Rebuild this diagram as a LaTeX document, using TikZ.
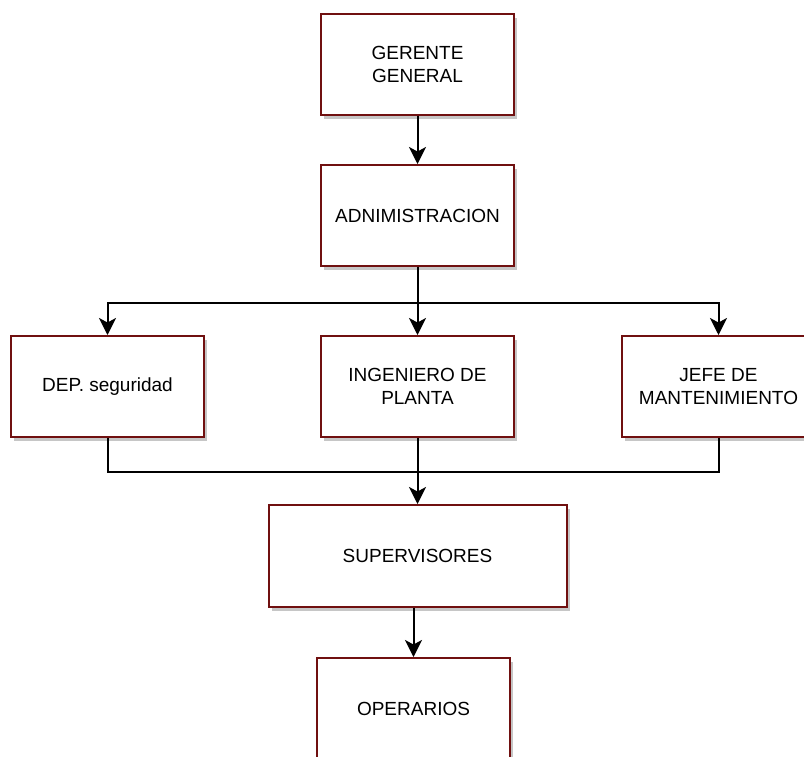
\documentclass[tikz,border=0pt]{standalone}
\usepackage{fontspec}
\setmainfont{Liberation Sans}
\usetikzlibrary{arrows.meta,shadows}
\definecolor{boxred}{RGB}{112,16,16}
\tikzset{
  orgbox/.style={draw=boxred, line width=2pt, fill=white, minimum width=193pt, minimum height=101pt,
    align=center, inner sep=2pt, font=\fontsize{19}{23}\selectfont,
    drop shadow={opacity=0.45, shadow xshift=3pt, shadow yshift=-4pt, fill=gray}},
  link/.style={line width=2pt, black},
  arr/.style={link, -{Stealth[length=17pt,width=17pt,inset=4.5pt]}}
}
\begin{document}
\begin{tikzpicture}[x=1pt,y=-1pt]
\useasboundingbox (0,0) rectangle (804,756);

% Boxes
\node [orgbox] (gerente) at (417.5,64) {GERENTE\\GENERAL};
\node [orgbox] (admin) at (417.5,215.5) {ADNIMISTRACION};
\node [orgbox] (dep) at (107.5,386.5) {DEP. seguridad};
\node [orgbox] (ing) at (417.5,386.5) {INGENIERO DE\\PLANTA};
\node [orgbox] (jefe) at (718.5,386.5) {JEFE DE\\MANTENIMIENTO};
\node [orgbox, minimum width=298pt, minimum height=102pt] (sup) at (417.5,556) {SUPERVISORES};
\node [orgbox] (oper) at (413.5,708.5) {OPERARIOS};

% split and join points
\coordinate (split) at (417.5,303);
\coordinate (join) at (417.5,472);

% Connectors
\draw [arr] (gerente) -- (admin);
\draw [link] (admin) -- (split);
\draw [arr] (split) -| (dep.north);
\draw [arr] (split) -- (ing);
\draw [arr] (split) -| (jefe.north);

\draw [link] (dep) |- (join);
\draw [link] (jefe) |- (join);
\draw [link] (ing) -- (join);
\draw [arr] (join) -- (sup);
\draw [arr] (oper.north |- sup.south) -- (oper);

\end{tikzpicture}
\end{document}
